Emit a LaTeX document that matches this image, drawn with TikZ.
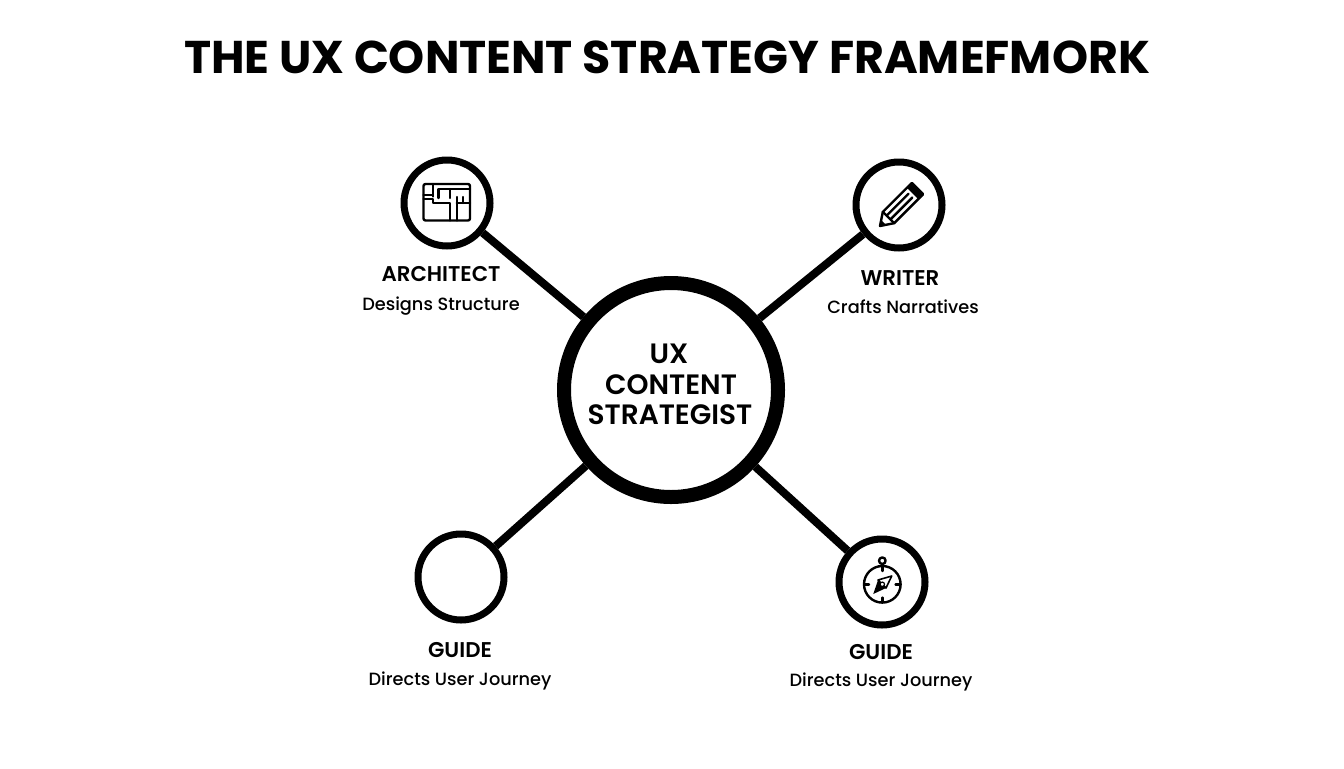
\documentclass[tikz,border=0pt]{standalone}
\usepackage{fontspec}
\setmainfont{Poppins}
\newfontfamily\semi{Poppins SemiBold}
\newfontfamily\med{Poppins Medium}
\tikzset{
  x=0.75pt,y=-0.75pt,
  hub/.style={circle,draw=black,fill=white,line width=10.5pt,minimum size=160.5pt,inner sep=0pt},
  sat/.style={circle,draw=black,fill=white,line width=5.25pt,minimum size=64.5pt,inner sep=0pt},
  link/.style={draw=black,line width=6pt},
  icon/.style={draw=black,line width=1.8pt,line cap=round,line join=round},
  ttl/.style={font=\bfseries\fontsize{34.4}{40}\selectfont,inner sep=0pt},
  hubtxt/.style={font=\semi\fontsize{21}{24}\selectfont,inner sep=0pt},
  role/.style={font=\semi\fontsize{16}{18}\selectfont,inner sep=0pt},
  desc/.style={font=\med\fontsize{13.3}{16}\selectfont,inner sep=0pt}
}
\begin{document}
\begin{tikzpicture}
\useasboundingbox (0,0) rectangle (1344,768);
\fill[white] (0,0) rectangle (1344,768);
\node[ttl] (title) at (667,57) {THE UX CONTENT STRATEGY FRAMEFMORK};
\node[hub] (hubc) at (671,390) {};
\node[sat] (arch) at (447,203) {};
\node[sat] (writ) at (899,205) {};
\node[sat] (gdl) at (461,577) {};
\node[sat] (gdr) at (882,582) {};
\draw[link] (hubc) -- (arch);
\draw[link] (hubc) -- (writ);
\draw[link] (hubc) -- (gdl);
\draw[link] (hubc) -- (gdr);
\node[hubtxt] (t1) at (669,354) {UX};
\node[hubtxt] (t2) at (671,385) {CONTENT};
\node[hubtxt] (t3) at (670,415) {STRATEGIST};
\node[role] (a1) at (441,274) {ARCHITECT};
\node[desc] (a2) at (441,306) {Designs Structure};
\node[role] (w1) at (900,278) {WRITER};
\node[desc] (w2) at (903,307) {Crafts Narratives};
\node[role] (g1) at (460,650) {GUIDE};
\node[desc] (g2) at (460,681) {Directs User Journey};
\node[role] (h1) at (881,652) {GUIDE};
\node[desc] (h2) at (881,682) {Directs User Journey};
% floor plan
\draw[icon,rounded corners=1.5pt] (423.5,184) rectangle (470,220.5);
\draw[icon] (423.5,195) -- (433,195) (433,184) -- (433,196.5);
\draw[icon] (423.5,199) -- (433,199) -- (433,203) -- (450,203) -- (450,220.5);
\draw[icon] (438.5,198) -- (438.5,189) -- (470,189);
\draw[icon] (450,189) -- (450,198);
\draw[icon] (456.7,197) -- (456.7,220.5) (463,197) -- (463,203) (456.7,203) -- (470,203);
% pencil
\begin{scope}[shift={(880,226)},rotate=45]
\draw[icon,fill=white] (0,0) -- (12,-8) -- (53,-8) -- (53,8) -- (12,8) -- cycle;
\fill[black] (46,-8) rectangle (54,8);
\draw[icon] (12,-8) -- (12,8) (12,-2.7) -- (43,-2.7) (12,2.7) -- (43,2.7);
\fill[black] (0,0) -- (5,-3.3) -- (5,3.3) -- cycle;
\end{scope}
% compass
\draw[icon] (882.3,584.3) circle (18.3);
\draw[icon] (882.3,560.7) circle (3.3);
\draw[icon] (882.3,564.2) -- (882.3,571);
\draw[icon] (882.3,597.5) -- (882.3,602.3) (864.3,584.3) -- (869,584.3) (895.5,584.3) -- (900.3,584.3);
\fill[black] (873.3,594) -- (878,580) -- (886,588) -- cycle;
\draw[icon,line width=1.2pt] (891.7,576) -- (878,580) -- (886,588) -- cycle;
\fill[white,draw=black,line width=.9pt] (882.3,584.3) circle (2.2);
\end{tikzpicture}
\end{document}
